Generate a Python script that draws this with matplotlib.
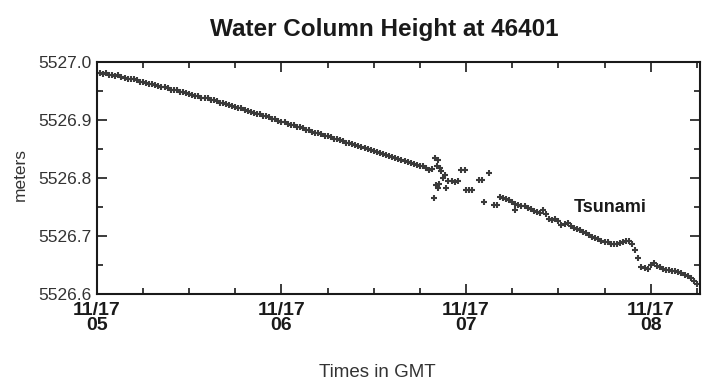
import matplotlib

matplotlib.use("Agg")
import matplotlib.pyplot as plt
from matplotlib.ticker import MultipleLocator, FormatStrFormatter

plt.rcParams["font.family"] = ["Liberation Sans", "DejaVu Sans"]

# minutes after 11/17 05:00 GMT, water column height in meters (DART 46401)
calm_minutes = list(range(0, 108))
calm_height = [
    5526.980, 5526.981, 5526.979, 5526.980, 5526.978, 5526.977, 5526.976, 5526.977, 5526.974, 5526.973,
    5526.971, 5526.970, 5526.970, 5526.968, 5526.966, 5526.966, 5526.964, 5526.962, 5526.962, 5526.960,
    5526.958, 5526.957, 5526.956, 5526.955, 5526.952, 5526.952, 5526.951, 5526.948, 5526.948, 5526.946,
    5526.944, 5526.943, 5526.942, 5526.941, 5526.938, 5526.938, 5526.937, 5526.934, 5526.934, 5526.932,
    5526.930, 5526.929, 5526.927, 5526.926, 5526.924, 5526.922, 5526.921, 5526.920, 5526.917, 5526.916,
    5526.914, 5526.912, 5526.911, 5526.910, 5526.907, 5526.906, 5526.905, 5526.902, 5526.901, 5526.899,
    5526.897, 5526.896, 5526.893, 5526.892, 5526.891, 5526.888, 5526.887, 5526.886, 5526.883, 5526.882,
    5526.880, 5526.878, 5526.877, 5526.875, 5526.873, 5526.872, 5526.870, 5526.868, 5526.867, 5526.865,
    5526.863, 5526.861, 5526.860, 5526.858, 5526.856, 5526.855, 5526.853, 5526.851, 5526.850, 5526.848,
    5526.846, 5526.844, 5526.843, 5526.841, 5526.839, 5526.838, 5526.836, 5526.834, 5526.833, 5526.831,
    5526.829, 5526.827, 5526.826, 5526.824, 5526.823, 5526.821, 5526.820, 5526.818,
]

# tsunami arrival: irregular event-mode samples
event_minutes = [108, 109, 109.5, 110, 110.25, 110.5, 110.75, 111, 111.25, 111.5, 112, 112.5,
                 113, 113.5, 114, 115.5, 116.5, 117.5, 118.5, 119.5, 120, 121, 122, 124.25,
                 125.25, 125.75, 127.5, 129, 130, 136]
event_height = [5526.813, 5526.815, 5526.766, 5526.834, 5526.788, 5526.820, 5526.783, 5526.831,
                5526.790, 5526.818, 5526.812, 5526.800, 5526.806, 5526.783, 5526.794, 5526.794,
                5526.793, 5526.794, 5526.813, 5526.814, 5526.780, 5526.779, 5526.780, 5526.797,
                5526.797, 5526.758, 5526.809, 5526.754, 5526.753, 5526.745]

after_minutes = list(range(131, 196))
after_height = [
    5526.768, 5526.766, 5526.764, 5526.762, 5526.759, 5526.756, 5526.754, 5526.752, 5526.751, 5526.749,
    5526.746, 5526.743, 5526.742, 5526.739, 5526.745, 5526.738, 5526.730, 5526.728, 5526.729, 5526.726,
    5526.719, 5526.721, 5526.722, 5526.718, 5526.714, 5526.712, 5526.710, 5526.707, 5526.705, 5526.701,
    5526.699, 5526.696, 5526.695, 5526.692, 5526.690, 5526.689, 5526.687, 5526.686, 5526.686, 5526.688,
    5526.689, 5526.692, 5526.691, 5526.686, 5526.676, 5526.663, 5526.647, 5526.645, 5526.644, 5526.651,
    5526.653, 5526.648, 5526.647, 5526.643, 5526.641, 5526.641, 5526.640, 5526.639, 5526.638, 5526.636,
    5526.633, 5526.631, 5526.628, 5526.623, 5526.617,
]

hour_ticks = [0, 60, 120, 180]
hour_labels = ["11/17\n05", "11/17\n06", "11/17\n07", "11/17\n08"]

INK = "#1a1a1a"
DOT = "#3a3a3a"


def main():
    fig = plt.figure(figsize=(7.02, 3.82), dpi=100)
    ax = fig.add_axes([0.138, 0.230, 0.859, 0.608])

    for xs, ys in [(calm_minutes, calm_height), (event_minutes, event_height), (after_minutes, after_height)]:
        ax.plot(xs, ys, linestyle="none", marker="+", markersize=4.5, markeredgewidth=1.5, color=DOT)

    ax.set_xlim(0, 196)
    ax.set_ylim(5526.6, 5527.0)

    ax.set_xticks(hour_ticks, hour_labels)
    ax.xaxis.set_minor_locator(MultipleLocator(15))
    ax.yaxis.set_major_locator(MultipleLocator(0.1))
    ax.yaxis.set_minor_locator(MultipleLocator(0.05))
    ax.yaxis.set_major_formatter(FormatStrFormatter("%.1f"))

    ax.tick_params(which="both", direction="in", top=True, right=True, color=INK, width=1.2)
    ax.tick_params(which="major", length=7)
    ax.tick_params(which="minor", length=4)
    ax.tick_params(axis="y", labelsize=12.5, labelcolor="#333333", pad=4)
    ax.tick_params(axis="x", labelsize=14, labelcolor=INK, pad=6)
    for lab in ax.get_xticklabels():
        lab.set_fontweight("bold")
        lab.set_linespacing(0.82)

    for sp in ax.spines.values():
        sp.set_linewidth(1.5)
        sp.set_color(INK)

    ax.text(167, 5526.75, "Tsunami", fontsize=13, fontweight="bold", color=INK,
            ha="center", va="center")

    fig.text(0.548, 0.924, "Water Column Height at 46401", fontsize=17.5, fontweight="bold",
             color=INK, ha="center", va="center")
    fig.text(0.538, 0.026, "Times in GMT", fontsize=13.5, color="#333333", ha="center", va="center")
    fig.text(0.029, 0.542, "meters", fontsize=12.5, color="#333333", rotation=90,
             ha="center", va="center")

    fig.savefig("out.png", dpi=100)
    plt.close(fig)


if __name__ == "__main__":
    main()
